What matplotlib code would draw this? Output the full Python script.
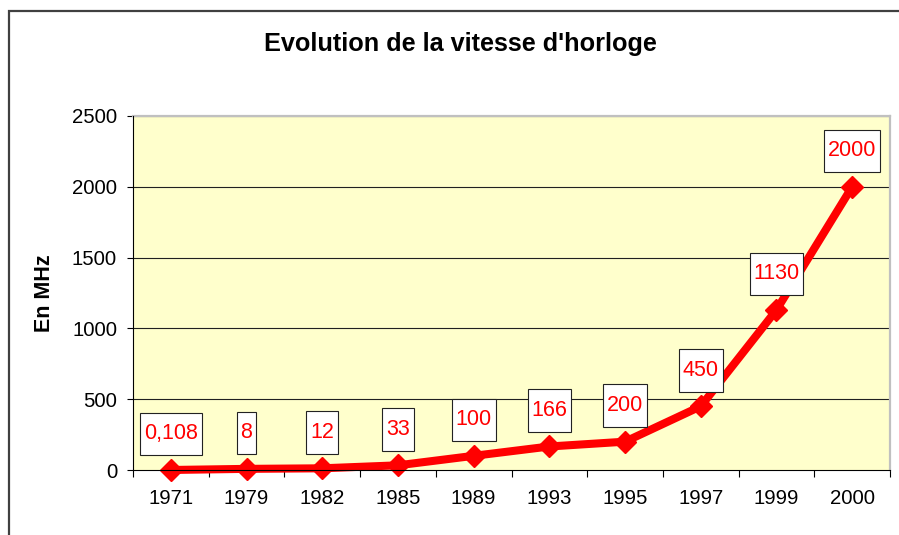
import matplotlib
matplotlib.use("Agg")
import matplotlib.pyplot as plt
from matplotlib.patches import Rectangle
from matplotlib.path import Path

years = ["1971", "1979", "1982", "1985", "1989", "1993", "1995", "1997", "1999", "2000"]
clock_mhz = [0.108, 8, 12, 33, 100, 166, 200, 450, 1130, 2000]
value_labels = ["0,108", "8", "12", "33", "100", "166", "200", "450", "1130", "2000"]
y_ticks = [0, 500, 1000, 1500, 2000, 2500]

W, H = 899, 535
DPI = 100
plt.rcParams["font.family"] = ["Liberation Sans", "DejaVu Sans"]

fig = plt.figure(figsize=(W / DPI, H / DPI), dpi=DPI)
fig.patch.set_facecolor("white")

# outer chart frame (left and top edges visible, rest runs off the canvas)
fig.patches.append(Rectangle((9 / W, -0.05), 1.2, (H - 11) / H + 0.05,
                             transform=fig.transFigure, fill=False,
                             edgecolor="#404040", linewidth=1.6, clip_on=False))

left, right, top, bottom = 133, 890, 116, 470
ax = fig.add_axes([left / W, 1 - bottom / H, (right - left) / W, (bottom - top) / H])
ax.set_facecolor("#FFFFCC")

x = list(range(len(years)))
ax.set_xlim(-0.5, len(years) - 0.5)
ax.set_ylim(0, 2500)

for v in y_ticks[1:]:
    ax.axhline(v, color="#202020", linewidth=0.8, zorder=1)

ax.plot(x, clock_mhz, color="#FF0000", linewidth=5.8, marker="D",
        markersize=11.5, markeredgecolor="#FF0000", zorder=3, clip_on=False,
        solid_joinstyle="miter")


def label_box(x0, y0, width, height, mutation_size):
    px = 0.18 * mutation_size
    py = 0.5 * mutation_size
    a, b = x0 - px, y0 - py
    c, d = x0 + width + px, y0 + height + py
    return Path([(a, b), (c, b), (c, d), (a, d), (a, b)],
                [Path.MOVETO, Path.LINETO, Path.LINETO, Path.LINETO, Path.CLOSEPOLY])


for xi, v, lab in zip(x, clock_mhz, value_labels):
    ax.annotate(lab, (xi, v), xytext=(0, 36 * 72 / DPI), textcoords="offset points",
                ha="center", va="center", color="#FF0000", fontsize=15.5,
                bbox=dict(boxstyle=label_box, facecolor="white",
                          edgecolor="#222222", linewidth=0.8),
                zorder=5, annotation_clip=False)

ax.set_yticks(y_ticks)
ax.set_yticklabels([str(t) for t in y_ticks], fontsize=14.7)
ax.tick_params(axis="y", direction="out", length=4.5, width=0.8, pad=7, color="black")

ax.set_xticks(x)
ax.set_xticklabels(years, fontsize=14.7)
ax.tick_params(axis="x", which="major", length=0, pad=14)
ax.set_xticks([i - 0.5 for i in range(len(years) + 1)], minor=True)
ax.tick_params(axis="x", which="minor", direction="out", length=5, width=0.8, color="black")

for s in ("left", "bottom"):
    ax.spines[s].set_color("black")
    ax.spines[s].set_linewidth(0.8)
for s in ("top", "right"):
    ax.spines[s].set_color("#C0C0C0")
    ax.spines[s].set_linewidth(1.6)
ax.spines["left"].set_zorder(4)
ax.spines["bottom"].set_zorder(4)

fig.text(460 / W, 1 - 44 / H, "Evolution de la vitesse d'horloge", ha="center", va="center",
         fontsize=18.2, fontweight="bold")
fig.text(44 / W, 1 - 293 / H, "En MHz", ha="center", va="center", rotation=90,
         fontsize=15.5, fontweight="bold")

fig.savefig("out.png", dpi=DPI)
